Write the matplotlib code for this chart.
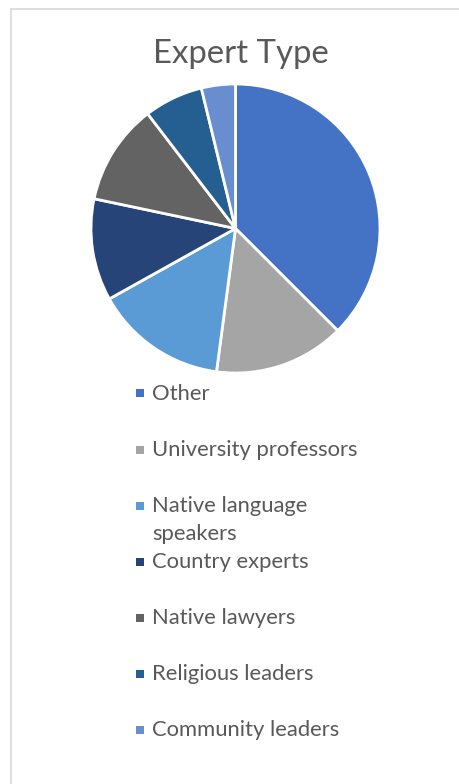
import matplotlib
matplotlib.use("Agg")
from matplotlib import pyplot as plt
from matplotlib.patches import Rectangle
from matplotlib.lines import Line2D

# expert type shares (%)
labels = ["Other", "University professors", "Native language\nspeakers",
          "Country experts", "Native lawyers", "Religious leaders", "Community leaders"]
shares = [37.5, 14.6, 14.8, 11.4, 11.3, 6.6, 3.8]
colors = ["#4472C4", "#A5A5A5", "#5B9BD5", "#264478", "#636363", "#255E91", "#698ED0"]

W, H = 459, 784
fig = plt.figure(figsize=(W / 100, H / 100), dpi=100)
fig.patch.set_facecolor("white")

# chart frame (only top and left edges visible in the crop)
fig.add_artist(Line2D([11 / W, 1], [1 - 9 / H, 1 - 9 / H], color="#D9D9D9", lw=1.2))
fig.add_artist(Line2D([11 / W, 11 / W], [0, 1 - 9 / H], color="#D9D9D9", lw=1.2))

fig.text(240.5 / W, 1 - 54 / H, "Expert Type", ha="center", va="center",
         fontsize=23.7, color="#595959", family="Lato")

ax = fig.add_axes([91 / W, 1 - 373 / H, 289 / W, 289 / H])
ax.pie(shares, colors=colors, startangle=90, counterclock=False,
       wedgeprops=dict(edgecolor="white", linewidth=2))
ax.set_xlim(-1, 1)
ax.set_ylim(-1, 1)
ax.set_aspect("equal")
ax.axis("off")

# legend, one row every 56 px
for i, (lab, col) in enumerate(zip(labels, colors)):
    y = 393.5 + 56 * i
    fig.add_artist(Rectangle((136 / W, 1 - (y + 4) / H), 8 / W, 8 / H,
                             facecolor=col, edgecolor="none"))
    fig.text(152 / W, 1 - (y - 9) / H, lab, ha="left", va="top",
             fontsize=15.8, color="#595959", family="Lato", linespacing=1.5)

plt.savefig("out.png", dpi=100)
